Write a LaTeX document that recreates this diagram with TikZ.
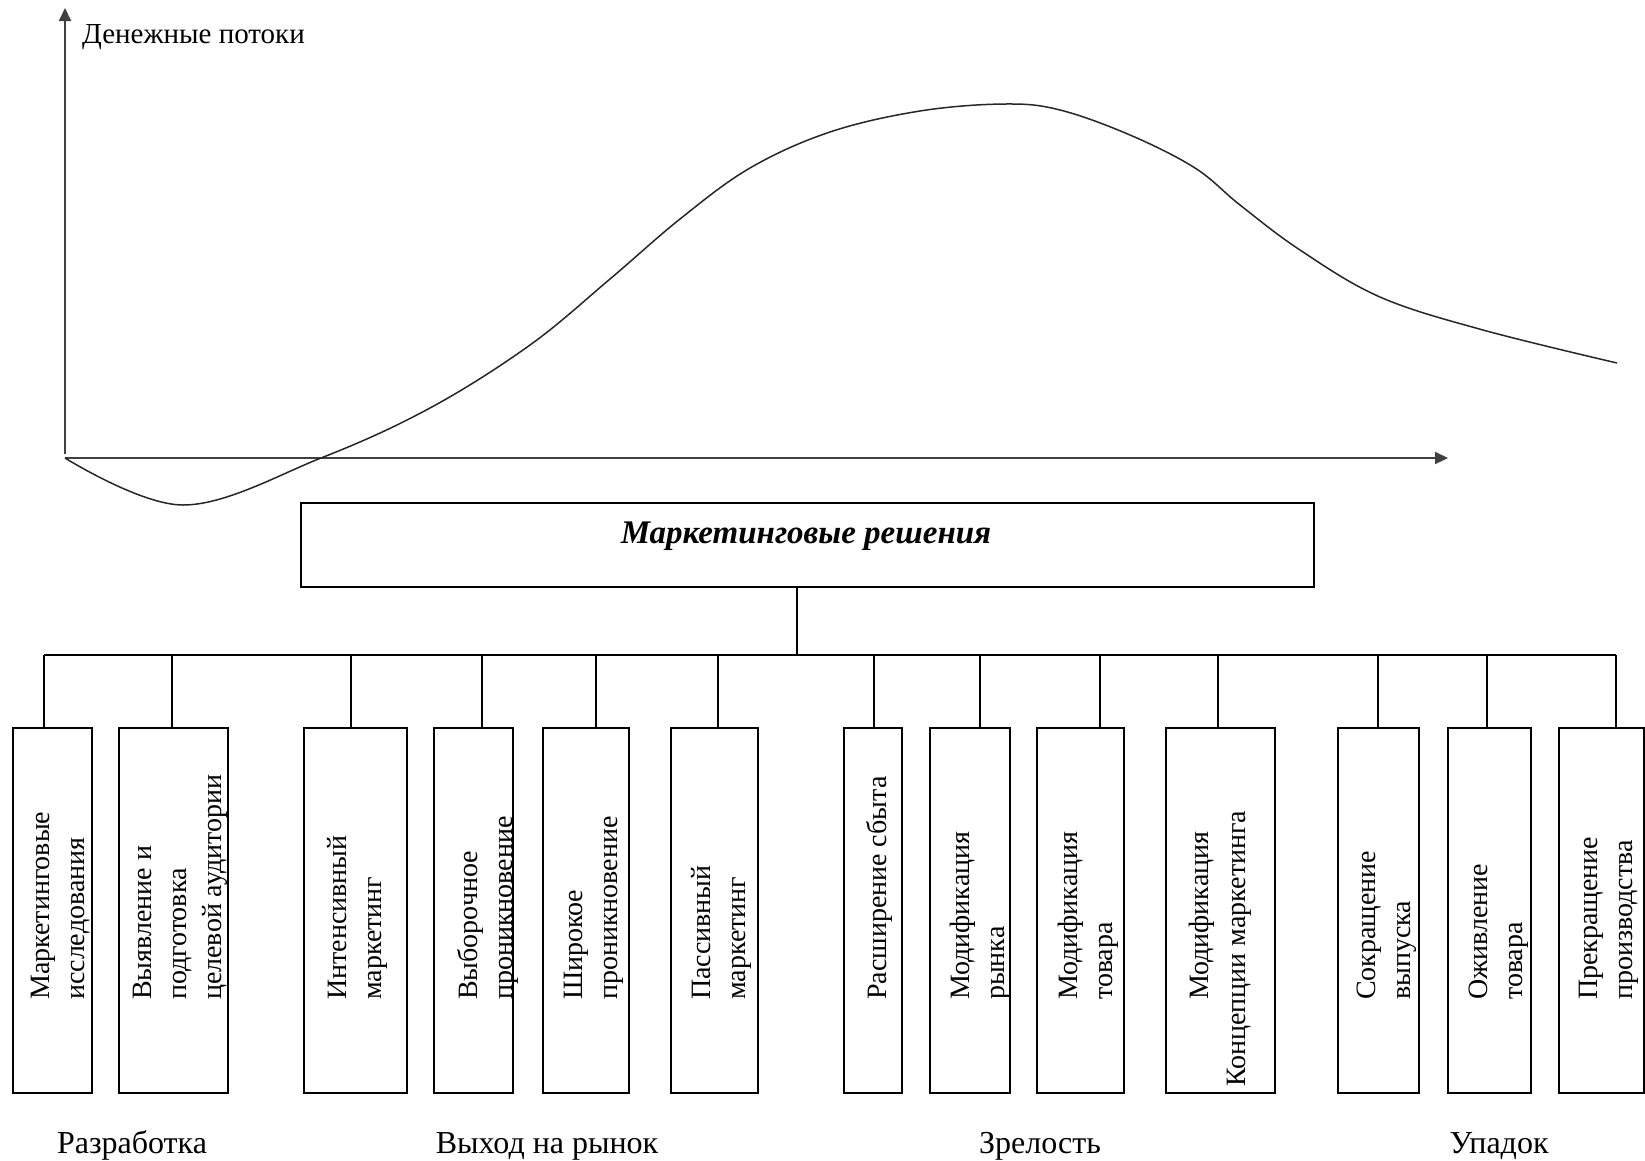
\documentclass[tikz,border=0pt]{standalone}
\usepackage{fontspec}
\setmainfont{Liberation Serif}
\usetikzlibrary{arrows.meta,calc}
\begin{document}
\begin{tikzpicture}[x=1pt,y=-1pt,
  axisline/.style={line width=2pt,draw=black!75,-{Triangle[length=13pt,width=12pt]}},
  curveline/.style={line width=1.5pt,draw=black!85},
  conn/.style={line width=1.5pt},
  vbox/.style={draw,line width=1.6pt,minimum height=365pt,inner sep=0pt,anchor=north west},
  vtext/.style={rotate=90,anchor=west,align=left,inner sep=0pt,font=\fontsize{28}{35}\selectfont},
  stage/.style={anchor=base,inner sep=0pt,font=\fontsize{32}{38}\selectfont}]
\useasboundingbox (0,0) rectangle (1645,1160);

% axes
\coordinate (O) at (65,458);
\coordinate (ytop) at (65,8);
\coordinate (xend) at (1448,458);
\draw[axisline] (65,454) -- (ytop);
\draw[axisline] (O) -- (xend);
\node[anchor=base west,inner sep=0pt,font=\fontsize{29}{34}\selectfont] (ylabel) at (82,43) {Денежные потоки};

% curve
\draw[curveline] plot[smooth,tension=0.6] coordinates {
 (65,458) (183,505) (321,458) (430,408) (530,345) (610,279) (680,219) (750,168)
 (830,132) (920,111) (1005,104) (1060,110) (1130,135) (1195,168) (1240,205)
 (1300,250) (1380,297) (1483,330) (1617,363)};

% main box
\node[draw,line width=1.6pt,minimum width=1013pt,minimum height=84pt,inner sep=0pt] (mainbox) at (807.5,545) {};
\node[anchor=base,inner sep=0pt,font=\fontsize{33}{38}\selectfont\bfseries\itshape] (maintext) at (806,543) {Маркетинговые решения};

% bus
\coordinate (bus) at (0,655);
\coordinate (trunk) at (797,587);
\draw[conn] (trunk) -- (trunk |- bus);

% boxes
\node[vbox,minimum width=79pt]  (b1)  at (12,727) {};
\node[vbox,minimum width=109pt] (b2)  at (118,727) {};
\node[vbox,minimum width=103pt] (b3)  at (303,727) {};
\node[vbox,minimum width=79pt]  (b4)  at (433,727) {};
\node[vbox,minimum width=86pt]  (b5)  at (542,727) {};
\node[vbox,minimum width=87pt]  (b6)  at (670,727) {};
\node[vbox,minimum width=58pt]  (b7)  at (843,727) {};
\node[vbox,minimum width=80pt]  (b8)  at (929,727) {};
\node[vbox,minimum width=87pt]  (b9)  at (1036,727) {};
\node[vbox,minimum width=109pt] (b10) at (1165,727) {};
\node[vbox,minimum width=81pt]  (b11) at (1337,727) {};
\node[vbox,minimum width=83pt]  (b12) at (1447,727) {};
\node[vbox,minimum width=85pt]  (b13) at (1558,727) {};

% tick points on box tops
\coordinate (k1) at (44,727);
\coordinate (k2) at (172,727);
\coordinate (k3) at (351,727);
\coordinate (k4) at (482,727);
\coordinate (k5) at (596,727);
\coordinate (k6) at (718,727);
\coordinate (k7) at (874,727);
\coordinate (k8) at (980,727);
\coordinate (k9) at (1100,727);
\coordinate (k10) at (1218,727);
\coordinate (k11) at (1378,727);
\coordinate (k12) at (1487,727);
\coordinate (k13) at (1616,727);
\draw[conn] (k1 |- bus) -- (k13 |- bus);
\foreach \k in {1,...,13} { \draw[conn] (k\k |- bus) -- (k\k); }

% box texts
\node[vtext] (t1) at (61,1000) {Маркетинговые\\исследования};
\node[vtext] (t2) at (180,1000) {Выявление и\\подготовка\\целевой аудитории};
\node[vtext] (t3) at (357,1000) {Интенсивный\\маркетинг};
\node[vtext] (t4) at (488,1000) {Выборочное\\проникновение};
\node[vtext] (t5) at (594,1000) {Широкое\\проникновение};
\node[vtext] (t6) at (721,1000) {Пассивный\\маркетинг};
\node[vtext] (t7) at (879,1000) {Расширение сбыта};
\node[vtext] (t8) at (980.5,1000) {Модификация\\рынка};
\node[vtext] (t9) at (1088,1000) {Модификация\\товара};
\node[vtext] (t10a) at (1202,1000) {Модификация};
\node[vtext] (t10b) at (1239,1087) {Концепции маркетинга};
\node[vtext] (t11) at (1387,1000) {Сокращение\\выпуска};
\node[vtext] (t12) at (1499,1000) {Оживление\\товара};
\node[vtext] (t13) at (1609,1000) {Прекращение\\производства};

% stage labels
\node[stage] (s1) at (132,1153) {Разработка};
\node[stage] (s2) at (547,1153) {Выход на рынок};
\node[stage] (s3) at (1040,1153) {Зрелость};
\node[stage] (s4) at (1499,1153) {Упадок};
\end{tikzpicture}
\end{document}
